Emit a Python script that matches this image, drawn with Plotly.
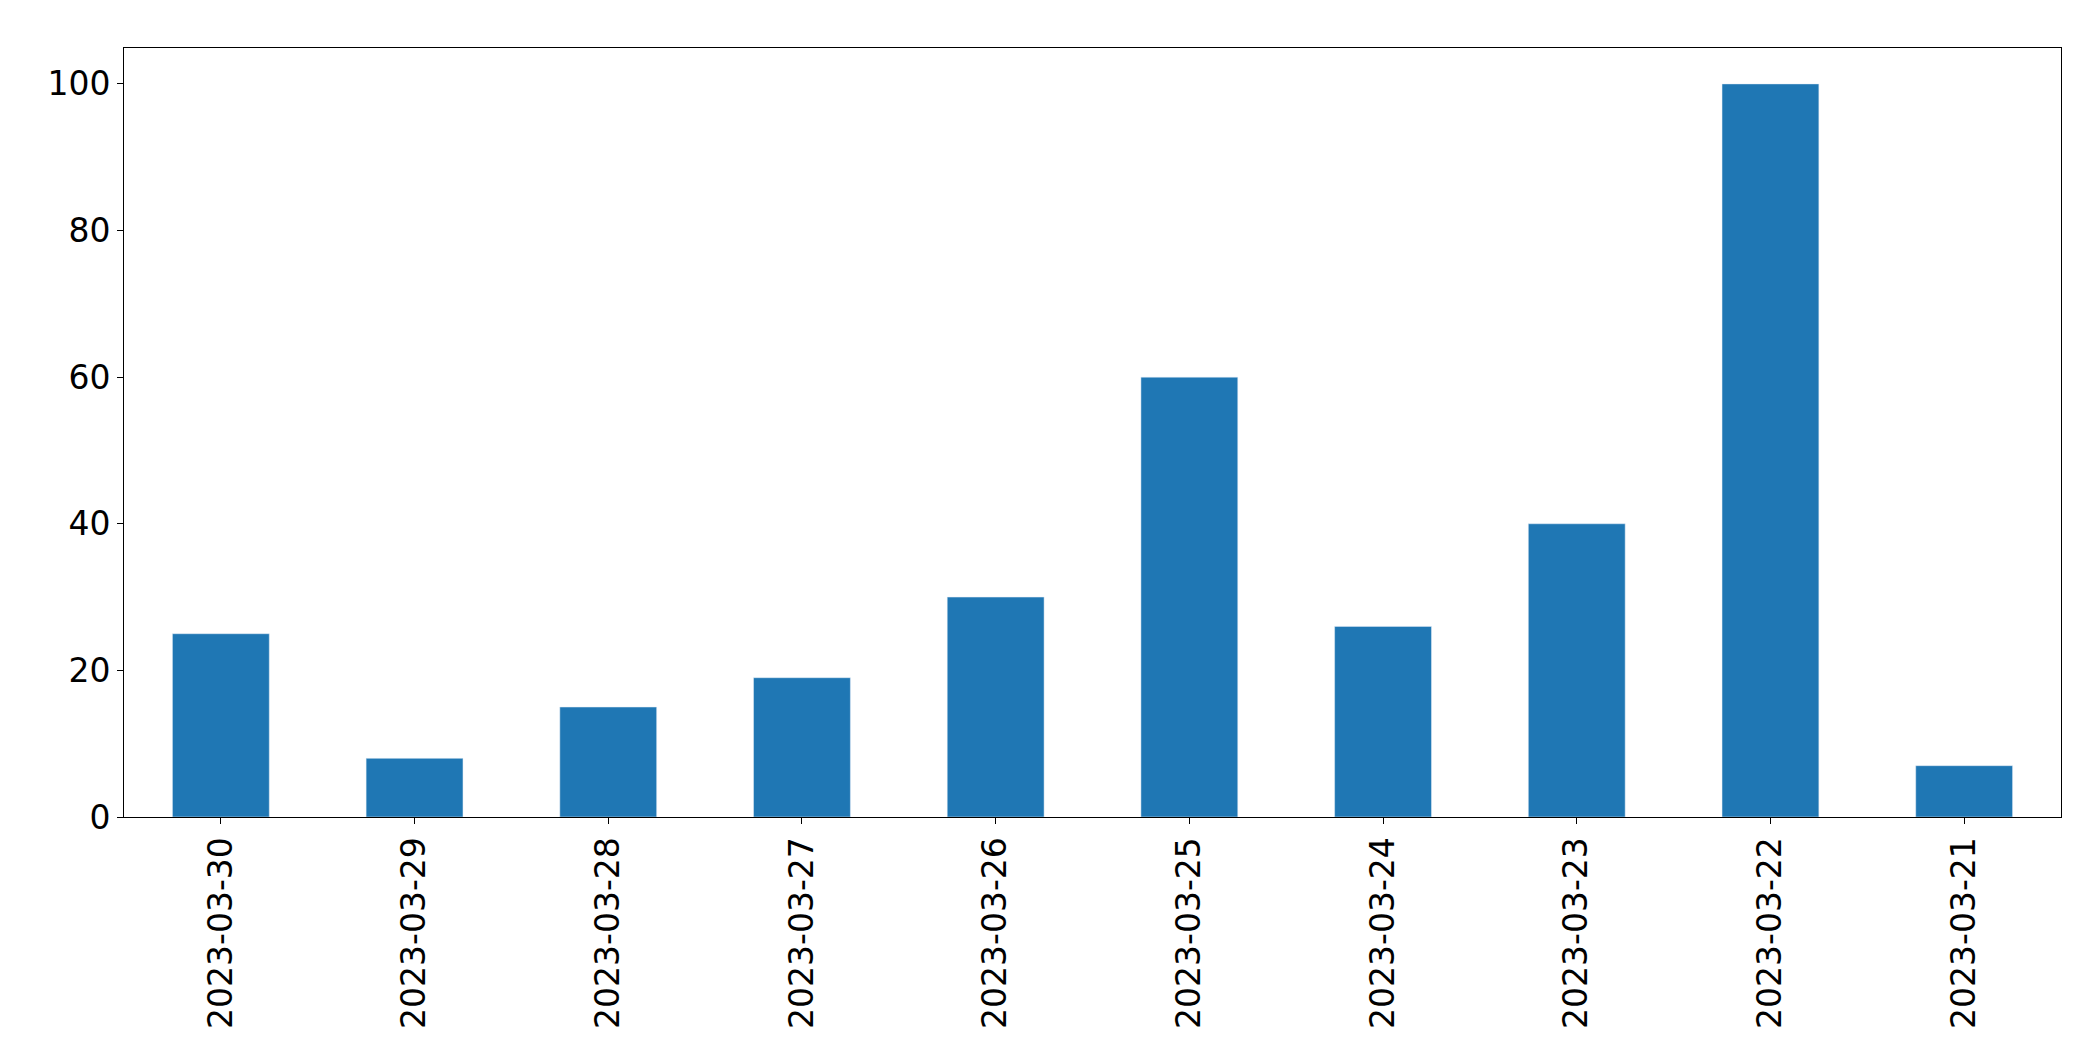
import plotly.graph_objects as go

dates = ["2023-03-30","2023-03-29","2023-03-28","2023-03-27","2023-03-26",
         "2023-03-25","2023-03-24","2023-03-23","2023-03-22","2023-03-21"]
values = [25, 8, 15, 19, 30, 60, 26, 40, 100, 7]

fig = go.Figure(go.Bar(x=dates, y=values, marker_color="#1f77b4", width=0.5))
axis_common = dict(showline=True, linecolor="black", linewidth=1, mirror=True,
                   ticks="outside", ticklen=6, tickcolor="black", showgrid=False,
                   zeroline=False, tickfont=dict(size=33, color="black"))
fig.update_layout(
    width=2093, height=1061, plot_bgcolor="white", paper_bgcolor="white",
    margin=dict(l=116, r=40, t=40, b=252),
    font=dict(family="DejaVu Sans"),
    showlegend=False,
    bargap=0.5,
)
fig.update_xaxes(type="category", tickangle=-90, range=[-0.5, 9.5], **axis_common)
fig.update_yaxes(range=[0, 104.9], tickvals=[0, 20, 40, 60, 80, 100], **axis_common)
fig.write_html("out.html")
